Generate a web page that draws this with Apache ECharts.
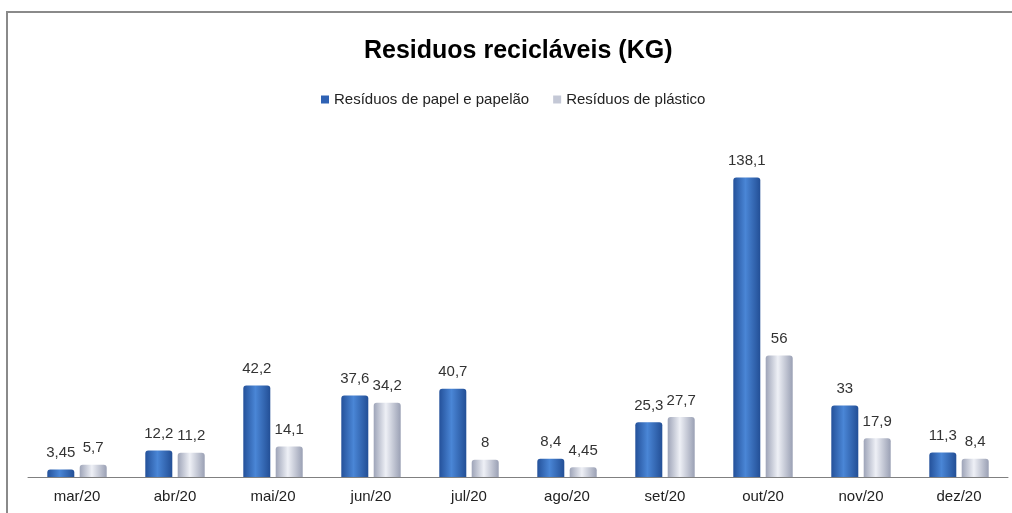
<!DOCTYPE html>
<html>
<head>
<meta charset="utf-8">
<title>Residuos recicláveis (KG)</title>
<script src="https://cdn.jsdelivr.net/npm/echarts@6/dist/echarts.min.js"></script>
<style>
    html, body { margin: 0; padding: 0; background: #fff; }
    #chart { width: 1012px; height: 513px; }
</style>
</head>
<body>
<div id="chart"></div>
<script>
// dados
var meses = ['mar/20', 'abr/20', 'mai/20', 'jun/20', 'jul/20', 'ago/20', 'set/20', 'out/20', 'nov/20', 'dez/20'];
var papel = [3.45, 12.2, 42.2, 37.6, 40.7, 8.4, 25.3, 138.1, 33, 11.3];
var plastico = [5.7, 11.2, 14.1, 34.2, 8, 4.45, 27.7, 56, 17.9, 8.4];

var fonte = '"Liberation Sans", Arial, sans-serif';

function virgula(p) {
    return String(p.value).replace('.', ',');
}

var corPapel = new echarts.graphic.LinearGradient(0, 0, 1, 0, [
    { offset: 0, color: '#24519a' },
    { offset: 0.45, color: '#4a86d6' },
    { offset: 1, color: '#234f96' }
]);
var corPlastico = new echarts.graphic.LinearGradient(0, 0, 1, 0, [
    { offset: 0, color: '#9ea4b8' },
    { offset: 0.45, color: '#eef0f6' },
    { offset: 1, color: '#9aa0b4' }
]);

var myChart = echarts.init(document.getElementById('chart'));

var option = {
    animation: false,
    textStyle: { fontFamily: fonte },
    title: {
        text: 'Residuos recicláveis (KG)',
        left: 359,
        top: 34,
        textStyle: { fontFamily: fonte, fontSize: 25, fontWeight: 'bold', color: '#000' }
    },
    legend: {
        top: 87,
        left: 316,
        itemWidth: 8,
        itemHeight: 8,
        itemGap: 24,
        icon: 'rect',
        textStyle: { fontFamily: fonte, fontSize: 15, color: '#222' },
        data: [
            { name: 'Resíduos de papel e papelão', itemStyle: { color: '#2f62b4' } },
            { name: 'Resíduos de plástico', itemStyle: { color: '#c4c8d6' } }
        ]
    },
    graphic: [{
        type: 'rect',
        shape: { x: 7, y: 12, width: 1020, height: 520 },
        style: { fill: 'none', stroke: '#8a8a8a', lineWidth: 2 },
        silent: true
    }],
    grid: { left: 28, right: 4, top: 130, bottom: 36 },
    xAxis: {
        type: 'category',
        data: meses,
        axisTick: { show: false },
        axisLine: { lineStyle: { color: '#808080', width: 1 } },
        axisLabel: { fontFamily: fonte, fontSize: 15, color: '#222', margin: 12 }
    },
    yAxis: {
        type: 'value',
        min: 0,
        max: 160,
        show: false
    },
    series: [
        {
            name: 'Resíduos de papel e papelão',
            type: 'bar',
            data: papel,
            barWidth: 27,
            barGap: '20%',
            itemStyle: { color: corPapel, borderRadius: [3, 3, 0, 0] },
            label: {
                show: true,
                position: 'top',
                distance: 9,
                fontFamily: fonte,
                fontSize: 15,
                color: '#333',
                formatter: virgula
            }
        },
        {
            name: 'Resíduos de plástico',
            type: 'bar',
            data: plastico,
            barWidth: 27,
            itemStyle: { color: corPlastico, borderRadius: [3, 3, 0, 0] },
            label: {
                show: true,
                position: 'top',
                distance: 9,
                fontFamily: fonte,
                fontSize: 15,
                color: '#333',
                formatter: virgula
            }
        }
    ]
};

myChart.setOption(option);
</script>
</body>
</html>
